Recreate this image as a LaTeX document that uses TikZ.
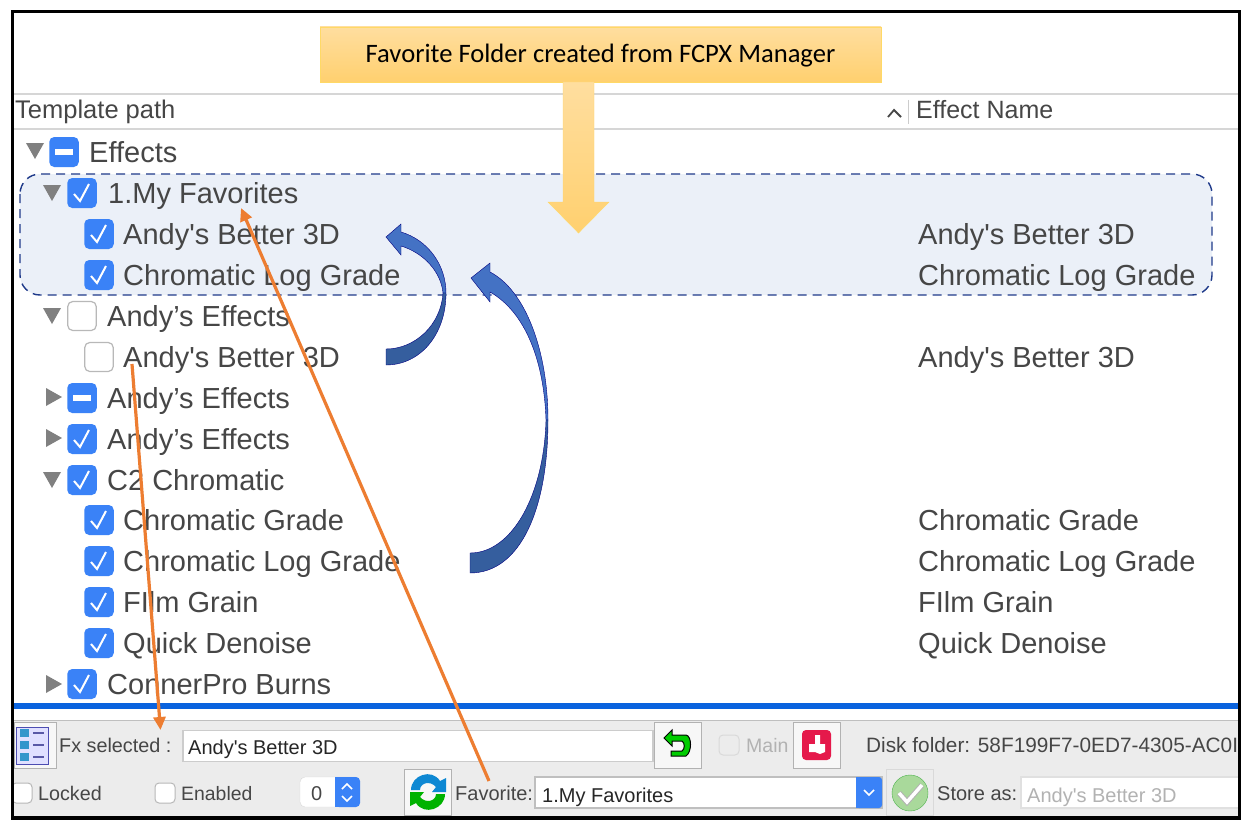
\documentclass[tikz,border=0pt]{standalone}
\usepackage{fontspec}
\setmainfont{Liberation Sans}
\newfontfamily\notefont{Carlito}
\usetikzlibrary{arrows.meta}
\definecolor{tickblue}{HTML}{3A82F7}
\definecolor{inktext}{HTML}{464646}
\definecolor{panelgray}{HTML}{ECECEC}
\definecolor{orangeline}{HTML}{ED7D31}
\definecolor{arrowtop}{HTML}{4472C4}
\definecolor{arrowlow}{HTML}{355E9E}
\definecolor{notetop}{HTML}{FFDE9F}
\definecolor{notelow}{HTML}{FFD06F}
\definecolor{noteedge}{HTML}{FFD966}
\definecolor{folderfill}{HTML}{EBF0F8}
\definecolor{folderedge}{HTML}{1F3A8A}
\definecolor{barblue}{HTML}{0A63DE}
\definecolor{crimson}{HTML}{E5194B}
\definecolor{paleok}{HTML}{A9D99B}
\newcommand{\andy}{Andy\textquotesingle s Better 3D}
\newcommand{\chroma}{Chromatic Log Grade}
\tikzset{
	rowtext/.style={anchor=base west,inner sep=0pt,text=inktext,font=\fontsize{29}{30}\selectfont},
	headtext/.style={anchor=base west,inner sep=0pt,text=inktext,font=\fontsize{25.5}{27}\selectfont},
	barstext/.style={anchor=base west,inner sep=0pt,text=inktext,font=\fontsize{20}{22}\selectfont},
	boxon/.style={fill=tickblue,rounded corners=5pt,minimum width=29.5pt,minimum height=30pt,inner sep=0pt,
		path picture={\draw[white,line width=2pt,sharp corners] ([shift={(-8,1)}]path picture bounding box.center)
			-- ([shift={(-2,8)}]path picture bounding box.center)
			-- ([shift={(7,-9)}]path picture bounding box.center);}},
	boxoff/.style={fill=white,draw=black!28,line width=1.2pt,rounded corners=5pt,minimum width=28.5pt,minimum height=29pt,inner sep=0pt},
	boxmix/.style={fill=tickblue,rounded corners=5pt,minimum width=29.5pt,minimum height=30pt,inner sep=0pt,
		path picture={\fill[white,sharp corners] ([shift={(-9,-3)}]path picture bounding box.center) rectangle ([shift={(9,3)}]path picture bounding box.center);}},
	smallbox/.style={fill=white,draw=black!28,line width=1pt,rounded corners=4pt,minimum width=20pt,minimum height=20pt,inner sep=0pt},
	toolbtn/.style={fill=white!97!black,draw=black!30,line width=1pt,minimum width=47pt,minimum height=46pt,inner sep=0pt},
	fieldbox/.style={fill=white,draw=black!20,line width=1.5pt,minimum height=31pt,inner sep=0pt},
	pointer/.style={draw=orangeline,line width=3.2pt,-{Triangle[length=13pt,width=12pt]}},
}
\begin{document}
\begin{tikzpicture}[x=1pt,y=-1pt]
	\useasboundingbox (0,0) rectangle (1260,840);
	\fill[white] (0,0) rectangle (1260,840);
	\begin{scope}
		\clip (13,13) rectangle (1238,817);
		% Table header
		\draw[black!16,line width=1.5pt] (13,94) -- (1238,94);
		\draw[black!16,line width=1.5pt] (13,129) -- (1238,129);
		\node[headtext] (pathhead) at (15,119) {Template path};
		\node[headtext,font=\fontsize{25}{27}\selectfont] (namehead) at (916,119) {Effect Name};
		\draw[inktext,line width=1.8pt] (888,117) -- (894,110) -- (901,117);
		\draw[black!20,line width=1pt] (908,100) -- (908,124);
		% Favorite folder highlight
		\draw[fill=folderfill,draw=folderedge,line width=1.4pt,dash pattern=on 9pt off 6pt,rounded corners=20pt] (20,174) rectangle (1212,295);
		% Disclosure triangles
		\foreach \tx/\ty in {35/151,52/193,52/316,52/480}
			\fill[black!50] (\tx-9,\ty-8) -- (\tx+9,\ty-8) -- (\tx,\ty+8) -- cycle;
		\foreach \tx/\ty in {54/397,54/438,54/684}
			\fill[black!50] (\tx-8,\ty-9) -- (\tx-8,\ty+9) -- (\tx+8,\ty) -- cycle;
		% Tree rows
		\foreach \nm/\kind/\bx/\tx/\yy/\lbl in {
			a/boxmix/64/89/152/Effects,
			b/boxon/82/108/193/1.My Favorites,
			c/boxon/99/123/234/\andy,
			d/boxon/99/123/275/\chroma,
			e/boxoff/82/107/316/Andy’s Effects,
			f/boxoff/99/123/357/\andy,
			g/boxmix/82/107/398/Andy’s Effects,
			h/boxon/82/107/439/Andy’s Effects,
			i/boxon/82/107/480/C2 Chromatic,
			j/boxon/99/123/520/Chromatic Grade,
			k/boxon/99/123/561/\chroma,
			l/boxon/99/123/602/FIlm Grain,
			m/boxon/99/123/643/Quick Denoise,
			n/boxon/82/107/684/ConnerPro Burns}{
			\node[\kind] (box\nm) at (\bx,\yy) {};
			\node[rowtext] (row\nm) at (\tx,\yy+10) {\lbl};
		}
		% Effect names
		\foreach \nm/\yy/\lbl in {c/234/\andy,d/275/\chroma,f/357/\andy,j/520/Chromatic Grade,k/561/\chroma,l/602/FIlm Grain,m/643/Quick Denoise}
			\node[rowtext] (name\nm) at (918,\yy+10) {\lbl};
		% Blue bar and bottom panel
		\fill[barblue] (13,703) rectangle (1238,709);
		\fill[panelgray] (13,720) rectangle (1238,817);
		\draw[black!25,line width=1pt] (13,720) -- (1238,720);
		% First bottom row
		\node[toolbtn,minimum width=42pt] (listbtn) at (35,745) {};
		\fill[blue!12!white,draw=blue!40!gray,line width=1pt] (16,727) rectangle (48,764);
		\foreach \yy in {733,745,757}{
			\fill[blue!35!cyan!60!gray] (20,\yy-4) rectangle (29,\yy+4);
			\fill[blue!30!gray] (33,\yy-1) rectangle (44,\yy+1);
		}
		\node[barstext,font=\fontsize{19.8}{21}\selectfont] (fxlabel) at (59,752) {Fx selected :};
		\node[fieldbox,minimum width=470pt] (fxfield) at (418,746) {};
		\node[barstext,text=black!85] (fxtext) at (188,754) {\andy};
		\node[toolbtn] (backbtn) at (678,745) {};
		\fill[green!80!black,draw=black,line width=1pt] (664,738) -- (672,730) -- (672,735) -- (686,735)
			.. controls (692,736) and (692,752) .. (686,756) -- (671,756) -- (671,751) -- (682,751)
			.. controls (685,749) and (685,743) .. (682,741) -- (672,741) -- (672,746) -- cycle;
		\node[smallbox,draw=black!15,fill=panelgray] (mainbox) at (729,745) {};
		\node[barstext,text=black!30,font=\fontsize{19.5}{21}\selectfont] (mainlabel) at (746,752) {Main};
		\node[toolbtn] (redbtn) at (817,745) {};
		\fill[crimson,rounded corners=4pt] (802,730) rectangle (831,760);
		\fill[white] (809,752) -- (809,744) -- (815,744) -- (815,735) -- (820,735) -- (820,744) -- (825,744) -- (825,752) -- (820,754) -- (815,752) -- cycle;
		\node[barstext,font=\fontsize{20.8}{22}\selectfont] (disklabel) at (866,752) {Disk folder: 58F199F7-0ED7-4305-AC0I};
		% Second bottom row
		\node[smallbox] (lockbox) at (22,793) {};
		\node[barstext,font=\fontsize{19.7}{21}\selectfont] (locklabel) at (38,800) {Locked};
		\node[smallbox] (enablebox) at (165,793) {};
		\node[barstext,font=\fontsize{19.4}{21}\selectfont] (enablelabel) at (181,800) {Enabled};
		\fill[white,draw=black!15,rounded corners=5pt] (300,777) rectangle (360,807);
		\fill[tickblue,rounded corners=4pt] (335,777) rectangle (360,807);
		\fill[tickblue] (335,777) rectangle (345,807);
		\draw[white,line width=1.5pt] (342,789) -- (347,784) -- (352,789);
		\draw[white,line width=1.5pt] (342,796) -- (347,801) -- (352,796);
		\node[barstext] (spintext) at (311,800) {0};
		\node[toolbtn] (syncbtn) at (428,792) {};
		\fill[cyan!70!blue] (411,790) .. controls (411,775) and (432,768) .. (440,781) -- (446,778) -- (446,792) -- (432,792) -- (436,787) .. controls (430,780) and (420,783) .. (420,790) -- cycle;
		\fill[green!70!black] (445,794) .. controls (445,809) and (424,816) .. (416,803) -- (410,806) -- (410,792) -- (424,792) -- (420,797) .. controls (426,804) and (436,801) .. (436,794) -- cycle;
		\node[barstext] (favlabel) at (455,800) {Favorite:};
		\node[fieldbox,minimum width=347pt,draw=black!25] (favfield) at (708.5,792.5) {};
		\fill[tickblue,rounded corners=3pt] (856,777) rectangle (882,808);
		\fill[tickblue] (856,777) rectangle (866,808);
		\draw[white,line width=1.5pt] (864,790) -- (869,795) -- (874,790);
		\node[barstext,text=black!85] (favtext) at (542,802) {1.My Favorites};
		\node[toolbtn,fill=panelgray,draw=black!15] (okbtn) at (910,792) {};
		\fill[paleok,draw=green!40!gray] (910,793) circle (18);
		\draw[black!30,line width=5.5pt] (899,793) -- (907,802) -- (922,785);
		\draw[white,line width=3.5pt] (899,793) -- (907,802) -- (922,785);
		\node[barstext] (storelabel) at (937,800) {Store as:};
		\node[fieldbox,minimum width=230pt,draw=black!12,fill=white] (storefield) at (1136,792.5) {};
		\node[barstext,text=black!30] (storetext) at (1027,802) {\andy};
	\end{scope}
	% Outer frame
	\draw[black,line width=3.5pt] (12.5,11.5) rectangle (1239.5,818);
	% Note box and its down arrow
	\node[draw=noteedge,top color=notetop,bottom color=notelow,minimum width=561pt,minimum height=55pt,inner sep=0pt,text height=17pt,text depth=0pt,font=\notefont\fontsize{26.6}{28}\selectfont,text=black] (favnote) at (600.5,54.5) {Favorite Folder created from FCPX Manager};
	\shade[top color=notetop,bottom color=notelow,draw=noteedge] (563,82) -- (594,82) -- (594,202) -- (609,202) -- (578.5,233) -- (548,202) -- (563,202) -- cycle;
	% Short curved arrow
	\fill[arrowtop,draw=blue!50!black,line width=.4pt] (386,237) -- (401,224) -- (401,232) .. controls (428,240) and (446,265) .. (446,293) -- (443,293) .. controls (441,272) and (424,253) .. (401,246) -- (401,255) -- cycle;
	\fill[arrowlow,draw=blue!50!black,line width=.4pt] (446,293) .. controls (446,335) and (420,365) .. (386,365) -- (386,349) .. controls (415,349) and (441,325) .. (443,293) -- cycle;
	% Long curved arrow
	\fill[arrowtop,draw=blue!50!black,line width=.4pt] (471,278) -- (490,263) -- (490,272) .. controls (525,290) and (548,350) .. (548,420) -- (546,420) .. controls (544,360) and (525,312) .. (490,292) -- (490,302) -- cycle;
	\fill[arrowlow,draw=blue!50!black,line width=.4pt] (548,420) .. controls (548,510) and (520,573) .. (470,573) -- (470,553) .. controls (512,553) and (544,495) .. (546,420) -- cycle;
	% Orange pointers
	\coordinate (fxstart) at (132,364);
	\coordinate (fxend) at (160.5,730);
	\coordinate (favstart) at (489,781);
	\coordinate (favend) at (241,208);
	\draw[pointer] (fxstart) -- (fxend);
	\draw[pointer] (favstart) -- (favend);
\end{tikzpicture}
\end{document}
